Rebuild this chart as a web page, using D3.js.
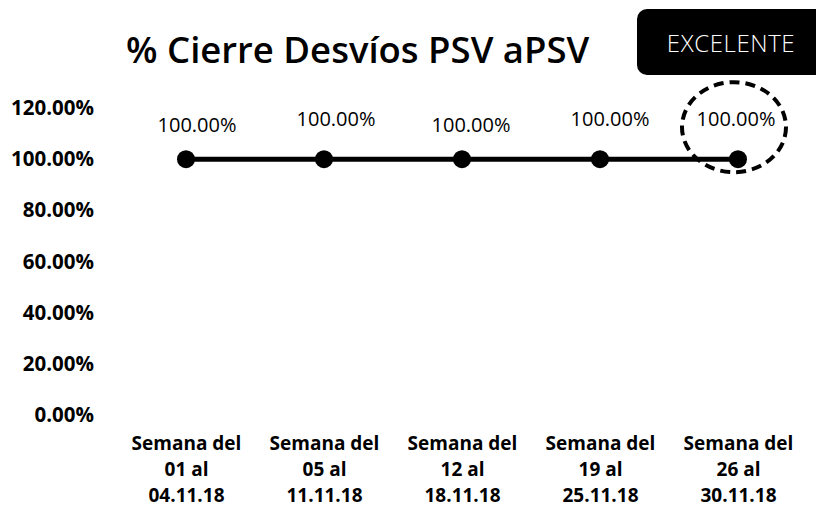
<!DOCTYPE html>
<html>
    <head>
        <meta charset="utf-8">
        <title>% Cierre Desvíos PSV aPSV</title>
        <script src="https://cdn.jsdelivr.net/npm/d3@7"></script>
        <style>
            body { margin: 0; background: #fff; }
            text { font-family: "Open Sans", sans-serif; fill: #000; }
        </style>
    </head>
    <body>
        <div id="chart"></div>
        <script>
            var width = 816, height = 508;

            // one line per week, each label split into its lines
            const weeks = [
                ["Semana del", "01 al", "04.11.18"],
                ["Semana del", "05 al", "11.11.18"],
                ["Semana del", "12 al", "18.11.18"],
                ["Semana del", "19 al", "25.11.18"],
                ["Semana del", "26 al", "30.11.18"]
            ];
            const cierre = [1.0, 1.0, 1.0, 1.0, 1.0];
            const yTicks = [0, 0.2, 0.4, 0.6, 0.8, 1.0, 1.2];
            const chartTitle = "% Cierre Desvíos PSV aPSV";
            const badgeText = "EXCELENTE";

            var svg = d3.select("#chart")
                .append("svg")
                .attr("width", width)
                .attr("height", height);

            var keys = weeks.map(function (d, i) { return "w" + i; });

            var xScale = d3.scalePoint()
                .domain(keys)
                .range([186, 738]);

            var yScale = d3.scaleLinear()
                .domain([0, 1.2])
                .range([415, 108]);

            // title
            svg.append("text")
                .attr("x", 126)
                .attr("y", 63)
                .attr("font-size", 36.5)
                .attr("font-weight", 600)
                .text(chartTitle);

            // black badge top right
            svg.append("rect")
                .attr("x", 637)
                .attr("y", 9)
                .attr("width", 200)
                .attr("height", 66)
                .attr("rx", 10)
                .attr("fill", "#000");

            svg.append("text")
                .attr("x", 731)
                .attr("y", 52)
                .attr("text-anchor", "middle")
                .attr("font-size", 24)
                .attr("font-weight", 300)
                .attr("letter-spacing", 0.6)
                .style("fill", "#fff")
                .text(badgeText);

            // Y axis, labels only
            var yAxis = d3.axisLeft(yScale)
                .tickValues(yTicks)
                .tickFormat(d3.format(".2%"))
                .tickSize(0)
                .tickPadding(0);

            var gy = svg.append("g")
                .attr("transform", "translate(94,0)")
                .call(yAxis);
            gy.select(".domain").remove();
            gy.selectAll("text")
                .attr("font-size", 20.5)
                .attr("font-weight", 700)
                .attr("font-family", "Open Sans, sans-serif")
                .style("fill", "#000");

            // X axis, multi-line labels
            var xAxis = d3.axisBottom(xScale).tickSize(0).tickFormat("");
            var gx = svg.append("g")
                .attr("transform", "translate(0,415)")
                .call(xAxis);
            gx.select(".domain").remove();
            gx.selectAll(".tick text").remove();
            gx.selectAll(".tick")
                .append("text")
                .attr("text-anchor", "middle")
                .attr("font-size", 19)
                .attr("font-weight", 700)
                .attr("font-family", "Open Sans, sans-serif")
                .style("fill", "#000")
                .selectAll("tspan")
                .data(function (d, i) { return weeks[i]; })
                .enter()
                .append("tspan")
                .attr("x", 0)
                .attr("y", function (d, i) { return 35 + i * 26; })
                .text(function (d) { return d; });

            // line + dots
            var line = d3.line()
                .x(function (d, i) { return xScale(keys[i]); })
                .y(function (d) { return yScale(d); });

            svg.append("path")
                .datum(cierre)
                .attr("d", line)
                .attr("fill", "none")
                .attr("stroke", "#000")
                .attr("stroke-width", 5);

            svg.selectAll("circle.dot")
                .data(cierre)
                .enter()
                .append("circle")
                .attr("class", "dot")
                .attr("cx", function (d, i) { return xScale(keys[i]); })
                .attr("cy", function (d) { return yScale(d); })
                .attr("r", 9)
                .attr("fill", "#000");

            // data labels (dragged a little in the original)
            var labelDx = [11, 12, 9, 10, -2];
            var labelDy = [-27, -33, -27, -33, -33];
            svg.selectAll("text.lbl")
                .data(cierre)
                .enter()
                .append("text")
                .attr("class", "lbl")
                .attr("x", function (d, i) { return xScale(keys[i]) + labelDx[i]; })
                .attr("y", function (d, i) { return yScale(d) + labelDy[i]; })
                .attr("text-anchor", "middle")
                .attr("font-size", 20)
                .text(d3.format(".2%"));

            // dashed highlight round the last point
            var last = cierre.length - 1;
            svg.append("ellipse")
                .attr("cx", xScale(keys[last]) - 4)
                .attr("cy", yScale(cierre[last]) - 32)
                .attr("rx", 52)
                .attr("ry", 45)
                .attr("fill", "none")
                .attr("stroke", "#000")
                .attr("stroke-width", 4)
                .attr("stroke-dasharray", "10,6");
        </script>
    </body>
</html>
